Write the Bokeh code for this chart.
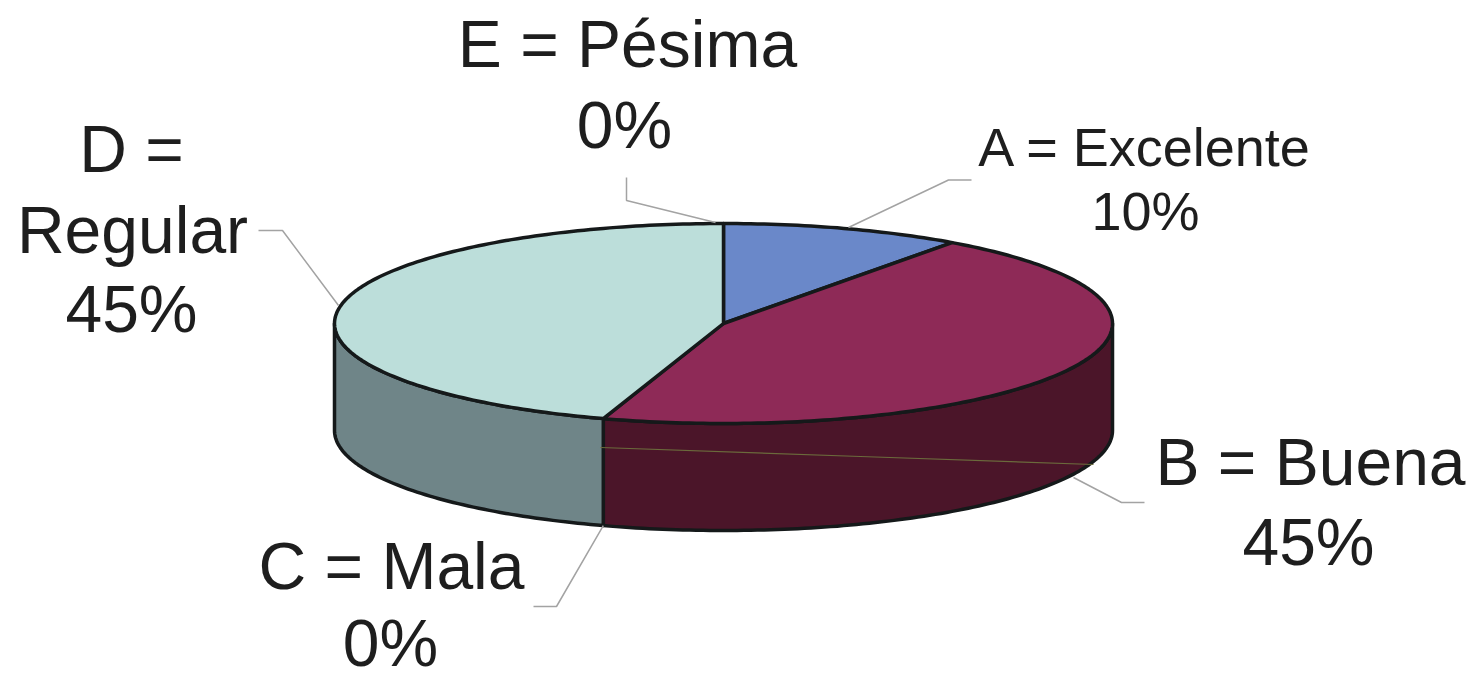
import math
from bokeh.core.properties import value
from bokeh.embed import file_html
from bokeh.models import ColumnDataSource, Range1d
from bokeh.plotting import figure
from bokeh.resources import INLINE

# Survey results, listed clockwise from twelve o'clock
categories = ["A = Excelente", "B = Buena", "C = Mala", "D = Regular", "E = Pésima"]
shares = [10, 45, 0, 45, 0]
top_colors = ["#6a88c9", "#8e2a57", "#ffffcc", "#bcdeda", "#c0c0ff"]
side_colors = ["#3a4a70", "#4b1529", "#808060", "#6f8588", "#606080"]

# Pie geometry in page pixels
CX, CY, RX, RY, DEPTH = 723, 323, 389, 100, 107
OUTLINE = "#15191a"
TEXT = "#1e1e1e"
LEADER = "#a3a3a3"

W, H = 1476, 680
p = figure(width=W, height=H, output_backend="svg", toolbar_location=None,
           x_range=Range1d(0, W), y_range=Range1d(H, 0), min_border=0,
           background_fill_color="white", border_fill_color="white",
           outline_line_color=None)
p.axis.visible = False
p.grid.visible = False


def rim(deg, drop=0.0):
    """Point on the pie's rim; degrees run clockwise from the top."""
    a = math.radians(deg)
    return CX + RX * math.sin(a), CY + RY * -math.cos(a) + drop


def arc(start, stop, drop=0.0):
    n = max(2, int(abs(stop - start)) + 1)
    return [rim(start + (stop - start) * i / (n - 1), drop) for i in range(n)]


# Cumulative slice boundaries
edges = [0.0]
for s in shares:
    edges.append(edges[-1] + s * 3.6)

# Outer wall: only the front half of the rim is visible
for i, share in enumerate(shares):
    lo, hi = max(edges[i], 90), min(edges[i + 1], 270)
    if share == 0 or lo >= hi:
        continue
    pts = arc(lo, hi) + arc(hi, lo, DEPTH)
    p.patch([q[0] for q in pts], [q[1] for q in pts], fill_color=side_colors[i],
            line_color=OUTLINE, line_width=3.5, line_join="round")

# Top faces
for i, share in enumerate(shares):
    if share == 0:
        continue
    pts = [(CX, CY)] + arc(edges[i], edges[i + 1])
    p.patch([q[0] for q in pts], [q[1] for q in pts], fill_color=top_colors[i],
            line_color=OUTLINE, line_width=3.5, line_join="round")

# Faint scan line crossing the dark wall
p.line([600, 860, 1093], [447, 456, 464], line_color="#6b6a3c", line_width=1.2)

# Leader lines, each running from the pie out to its label
leaders = [
    [(848, 227), (948, 179.5), (971, 179.5)],
    [(1073, 477), (1121, 502), (1144, 502)],
    [rim(edges[2], DEPTH), (556, 606), (533, 606)],
    [(338, 305), (282, 230), (258, 230)],
    [(715, 222), (626, 200), (626, 177)],
]
for pts in leaders:
    p.line([q[0] for q in pts], [q[1] for q in pts], line_color=LEADER, line_width=1.5)

# Label rows: text lines, centre x and baseline y per line, font size in px
label_rows = [
    (["A = Excelente", f"{shares[0]}%"], [(1145, 167), (1145, 231)], 54),
    (["B = Buena", f"{shares[1]}%"], [(1310, 487), (1308, 567)], 66),
    (["C = Mala", f"{shares[2]}%"], [(391, 591), (390, 668)], 66),
    (["D =", "Regular", f"{shares[3]}%"], [(131, 174), (132, 255), (131, 334)], 66),
    (["E = Pésima", f"{shares[4]}%"], [(627, 69), (624, 150)], 66),
]
for lines, spots, size in label_rows:
    src = ColumnDataSource(dict(x=[s[0] for s in spots], y=[s[1] for s in spots], t=lines))
    p.text("x", "y", text="t", source=src, text_font=value("Liberation Sans"),
           text_font_size=value(f"{size}px"), text_align="center",
           text_baseline="alphabetic", text_color=TEXT, y_offset=-0.385 * size)

open("out.html", "w").write(file_html(p, INLINE))
